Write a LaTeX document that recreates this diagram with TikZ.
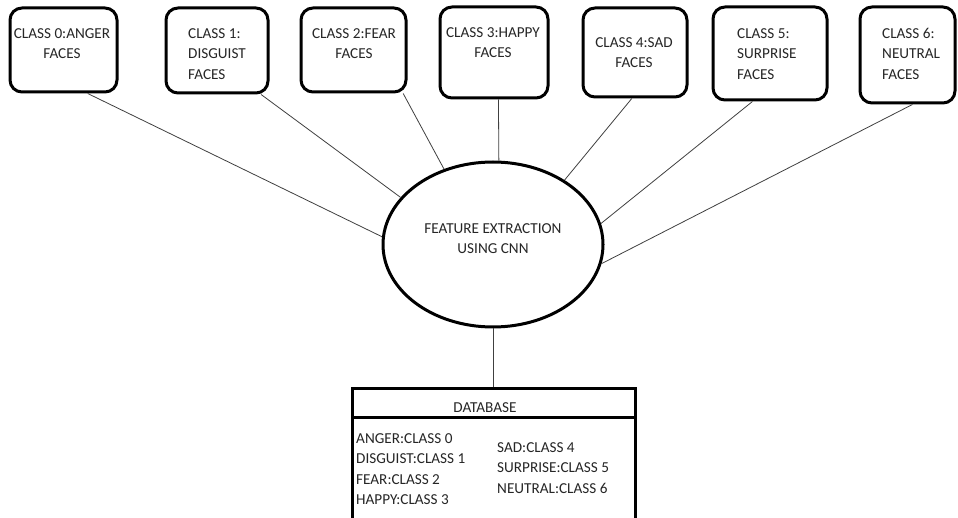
\documentclass[tikz,border=0pt]{standalone}
\usepackage{fontspec}
\setmainfont{Carlito}
\usetikzlibrary{shapes.geometric,calc}
\begin{document}
\begin{tikzpicture}[x=1pt,y=-1pt,
  every node/.style={font=\fontsize{15.2}{20.5}\selectfont, text=black!85},
  clsbox/.style={draw=black,line width=3pt,rounded corners=12pt,inner sep=0pt},
  lbl/.style={inner sep=0pt,anchor=north},
  lblw/.style={inner sep=0pt,anchor=north west,align=left},
  conn/.style={draw=black!75,line width=0.8pt},
  dbbox/.style={draw=black,line width=3pt,inner sep=0pt,minimum width=283pt}]
\useasboundingbox (0,0) rectangle (958,518);
\fill[white] (0,0) rectangle (958,518);

% class boxes
\node[clsbox,minimum width=107pt,minimum height=84pt] (b0) at (63.5,50) {};
\node[clsbox,minimum width=102pt,minimum height=85pt] (b1) at (217,50.5) {};
\node[clsbox,minimum width=105pt,minimum height=84pt] (b2) at (353.5,50) {};
\node[clsbox,minimum width=108pt,minimum height=91pt] (b3) at (494,52.5) {};
\node[clsbox,minimum width=104pt,minimum height=89pt] (b4) at (635,52.5) {};
\node[clsbox,minimum width=114pt,minimum height=93pt] (b5) at (770,53.5) {};
\node[clsbox,minimum width=95pt,minimum height=96pt] (b6) at (907.5,55) {};

% class labels
\node[lbl,align=center] (t0) at (62,28) {CLASS 0:ANGER\\FACES};
\node[lblw] (t1) at (188,28) {CLASS 1:\\DISGUIST\\FACES};
\node[lbl,align=center] (t2) at (354,28) {CLASS 2:FEAR\\FACES};
\node[lbl,align=center] (t3) at (493,27) {CLASS 3:HAPPY\\FACES};
\node[lbl,align=center] (t4) at (634,37) {CLASS 4:SAD\\FACES};
\node[lblw] (t5) at (737,28) {CLASS 5:\\SURPRISE\\FACES};
\node[lblw] (t6) at (882,28) {CLASS 6:\\NEUTRAL\\FACES};

% ellipse
\node[draw=black,line width=3pt,ellipse,minimum width=220pt,minimum height=165pt,inner sep=0pt] (e) at (493,244.5) {};
\node[lbl,align=center] (et) at (493,223) {FEATURE EXTRACTION\\USING CNN};

% database
\node[dbbox,minimum height=29pt] (dbh) at (493.5,402.5) {};
\node[dbbox,minimum height=106pt] (db) at (493.5,470) {};
\node[inner sep=0pt] (dbt) at (485,408) {DATABASE};
\node[lblw] (dbl) at (356,433) {ANGER:CLASS 0\\DISGUIST:CLASS 1\\FEAR:CLASS 2\\HAPPY:CLASS 3};
\node[lblw] (dbr) at (497,442) {SAD:CLASS 4\\SURPRISE:CLASS 5\\NEUTRAL:CLASS 6};

% connectors
\draw[conn] ($(b0.south west)!0.72!(b0.south east)$) -- (e.176);
\draw[conn] ($(b1.south west)!0.92!(b1.south east)$) -- (e.153.4);
\draw[conn] ($(b2.south west)!0.96!(b2.south east)$) -- (e.123.3);
\draw[conn] ($(b3.south west)!0.54!(b3.south east)$) -- (e.86);
\draw[conn] ($(b4.south west)!0.47!(b4.south east)$) -- (e.42.7);
\draw[conn] ($(b5.south west)!0.35!(b5.south east)$) -- (e.11.7);
\draw[conn] ($(b6.south west)!0.55!(b6.south east)$) -- (e.-10.7);
\draw[conn] (e.south) -- (e.south |- dbh.north);
\end{tikzpicture}
\end{document}
